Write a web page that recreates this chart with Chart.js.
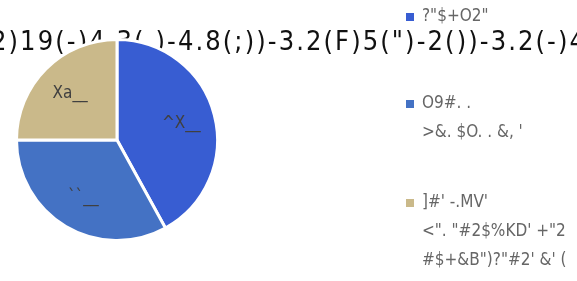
<!DOCTYPE html>
<html>
<head>
<meta charset="utf-8">
<script src="https://cdn.jsdelivr.net/npm/chart.js@4/dist/chart.umd.min.js"></script>
<style>
  html, body { margin: 0; padding: 0; background: #fff; }
  #chart { display: block; }
</style>
</head>
<body>
<canvas id="chart" width="577" height="281"></canvas>
<script>
// data (text kept as it appears)
const titleText = '2)19(-)4.3(.)-4.8(;))-3.2(F)5(")-2())-3.2(-)4';
const categories = [
  ['?"$+O2"'],
  ['O9#. .', '>&. $O. . &, \''],
  [']#\' -.MV\'', '<". "#2$%KD\' +"2', '#$+&B")?"#2\' &\' (']
];
const sliceValues = [42, 33, 25];
const sliceLabels = ['^X__', '``__', 'Xa__'];
const sliceColors = ['#385dd2', '#4472c4', '#cab98a'];

const FONT = '"DejaVu Sans Condensed", "DejaVu Sans", sans-serif';

// title sits behind the pie, so draw it before the datasets
const titleBehind = {
  id: "titleBehind",
  beforeDatasetsDraw(chart) {
    const ctx = chart.ctx;
    ctx.save();
    ctx.font = "27px " + FONT;
    ctx.fillStyle = "#111";
    ctx.textAlign = "left";
    ctx.textBaseline = "alphabetic";
    // spread the glyphs so the line runs off both edges like the original
    const target = 594;
    const w = ctx.measureText(titleText).width;
    const gap = Math.max(0, (target - w) / (titleText.length - 1));
    let x = 288 - target / 2;
    for (const ch of titleText) {
      ctx.fillText(ch, x, 50);
      x += ctx.measureText(ch).width + gap;
    }
    ctx.restore();
  }
};

// percentage labels inside the slices
const sliceText = {
  id: "sliceText",
  afterDatasetsDraw(chart) {
    const ctx = chart.ctx;
    const meta = chart.getDatasetMeta(0);
    ctx.save();
    ctx.font = "17px " + FONT;
    ctx.fillStyle = "#404040";
    ctx.textAlign = "center";
    ctx.textBaseline = "middle";
    meta.data.forEach((arc, i) => {
      const p = arc.getProps(["x", "y", "startAngle", "endAngle", "outerRadius"], true);
      const mid = (p.startAngle + p.endAngle) / 2;
      const r = p.outerRadius * 0.66;
      ctx.fillText(sliceLabels[i], p.x + Math.cos(mid) * r, p.y + Math.sin(mid) * r);
    });
    ctx.restore();
  }
};

// legend on the right, multi-line entries
const sideLegend = {
  id: "sideLegend",
  afterDraw(chart) {
    const ctx = chart.ctx;
    const rowsY = [17, 104, 203];
    ctx.save();
    ctx.font = "17px " + FONT;
    ctx.textBaseline = "middle";
    ctx.textAlign = "left";
    categories.forEach((lines, i) => {
      ctx.fillStyle = sliceColors[i];
      ctx.fillRect(406, rowsY[i] - 4, 8, 8);
      ctx.fillStyle = "#666";
      lines.forEach((t, j) => {
        ctx.fillText(t, 422, rowsY[i] + j * 29);
      });
    });
    ctx.restore();
  }
};

new Chart(document.getElementById("chart"), {
  type: "pie",
  data: {
    labels: categories.map((c) => c.join(" ")),
    datasets: [
      {
        data: sliceValues,
        backgroundColor: sliceColors,
        borderColor: "#fff",
        borderWidth: 3
      }
    ]
  },
  options: {
    responsive: false,
    animation: false,
    layout: {
      padding: { left: 15, right: 358, top: 38, bottom: 39 }
    },
    plugins: {
      legend: { display: false },
      title: { display: false },
      tooltip: { enabled: false }
    }
  },
  plugins: [titleBehind, sliceText, sideLegend]
});
</script>
</body>
</html>
